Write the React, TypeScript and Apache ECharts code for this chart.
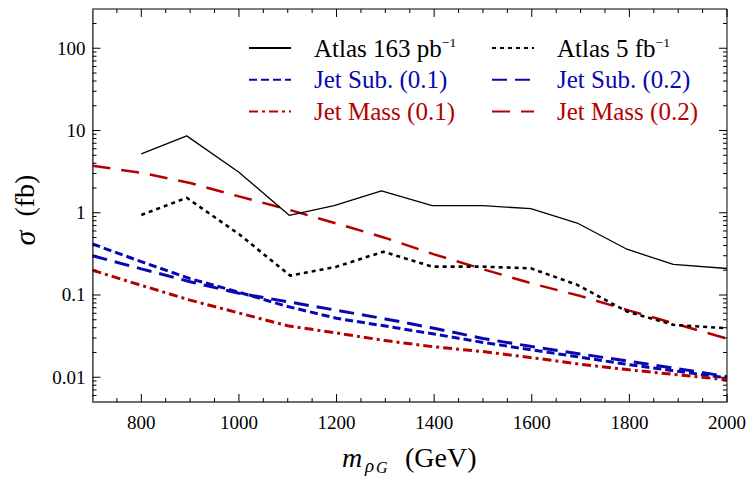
import React, { useEffect, useRef } from 'react';
import * as echarts from 'echarts';

// ---- data ----
const atlas163Mass = [800, 893, 1000, 1103, 1195, 1292, 1396, 1500, 1598, 1693, 1795, 1890, 2000];
const atlas163Sigma = [5.2, 8.6, 3.1, 0.93, 1.22, 1.85, 1.22, 1.22, 1.12, 0.75, 0.36, 0.235, 0.21];

const atlas5Mass = [800, 893, 1000, 1105, 1200, 1296, 1396, 1500, 1598, 1693, 1795, 1890, 2000];
const atlas5Sigma = [0.94, 1.52, 0.55, 0.172, 0.221, 0.336, 0.221, 0.221, 0.211, 0.133, 0.063, 0.0434, 0.0395];

const theoryMass = [700, 800, 900, 1000, 1100, 1200, 1300, 1400, 1500, 1600, 1700, 1800, 1900, 2000];
const jetSub01 = [0.417, 0.254, 0.158, 0.108, 0.0724, 0.0521, 0.0419, 0.0335, 0.0265, 0.0215, 0.0175, 0.0142, 0.0118, 0.0098];
const jetSub02 = [0.3, 0.208, 0.145, 0.105, 0.0828, 0.0652, 0.0512, 0.0394, 0.0296, 0.0236, 0.0192, 0.0156, 0.0127, 0.0102];
const jetMass01 = [0.2, 0.131, 0.0866, 0.0604, 0.0422, 0.0345, 0.0279, 0.0234, 0.0205, 0.0173, 0.0144, 0.0123, 0.0107, 0.0093];
const jetMass02 = [3.72, 3.06, 2.3, 1.58, 1.1, 0.74, 0.494, 0.312, 0.206, 0.138, 0.097, 0.0646, 0.0437, 0.0295];

const xTickLabels = ['800', '1000', '1200', '1400', '1600', '1800', '2000'];
const yTickLabels = ['0.01', '0.1', '1', '10', '100'];
const xMajorTicks = [800, 1000, 1200, 1400, 1600, 1800, 2000];
const xMinorTicks = [750, 850, 900, 950, 1050, 1100, 1150, 1250, 1300, 1350, 1450, 1500, 1550, 1650, 1700, 1750, 1850, 1900, 1950];
const yMajorTicks = [0.01, 0.1, 1, 10, 100];
const yMinorTicks = [
  0.006, 0.007, 0.008, 0.009,
  0.02, 0.03, 0.04, 0.05, 0.06, 0.07, 0.08, 0.09,
  0.2, 0.3, 0.4, 0.5, 0.6, 0.7, 0.8, 0.9,
  2, 3, 4, 5, 6, 7, 8, 9,
  20, 30, 40, 50, 60, 70, 80, 90,
  200,
];

const X_MIN = 700;
const X_MAX = 2000;
const Y_MIN = 0.005;
const Y_MAX = 300;

const BLUE = '#0808b0';
const RED = '#b40000';
const SERIF = "'Liberation Serif', 'Times New Roman', serif";

const zip = (xs: number[], ys: number[]) => xs.map((x, i) => [x, ys[i]]);

export default function App() {
  const ref = useRef<HTMLDivElement>(null);

  useEffect(() => {
    if (!ref.current) return;
    const chart = echarts.init(ref.current, undefined, { renderer: 'svg' });

    const legendText = {
      fontFamily: SERIF,
      fontSize: 25,
      lineHeight: 26,
      padding: [0, 0, 0, 18],
      rich: {
        sup: { fontFamily: SERIF, fontSize: 13.5, lineHeight: 10, verticalAlign: 'top' },
      },
    };
    const legendFormatter = (name: string) => name.replace('-1', '{sup|−1}');

    const xTickData = [
      ...xMajorTicks.map((v) => [v, Y_MIN, 8]),
      ...xMinorTicks.map((v) => [v, Y_MIN, 4]),
    ];
    const yTickData = [
      ...yMajorTicks.map((v) => [X_MIN, v, 8]),
      ...yMinorTicks.map((v) => [X_MIN, v, 4]),
    ];

    const tickStyle = { stroke: '#000', lineWidth: 1 };

    const legendBase = {
      orient: 'vertical',
      top: 35,
      padding: 0,
      itemWidth: 42,
      itemHeight: 14,
      itemGap: 5.7,
      selectedMode: false,
      formatter: legendFormatter,
      textStyle: legendText,
      itemStyle: { opacity: 0, borderWidth: 0 },
    };

    chart.setOption({
      animation: false,
      grid: {
        left: 92.5,
        right: 18.5,
        top: 9,
        bottom: 75,
        show: true,
        borderColor: '#000',
        borderWidth: 1,
        backgroundColor: 'transparent',
      },
      xAxis: {
        type: 'value',
        min: X_MIN,
        max: X_MAX,
        interval: 100,
        axisLine: { show: true, lineStyle: { color: '#666', width: 1.6 } },
        axisTick: { show: false },
        splitLine: { show: false },
        axisLabel: {
          margin: 11,
          fontFamily: SERIF,
          fontSize: 19,
          color: '#000',
          formatter: (v: number) => {
            const i = xMajorTicks.indexOf(v);
            return i >= 0 ? xTickLabels[i] : '';
          },
        },
      },
      yAxis: {
        type: 'log',
        logBase: 10,
        min: Y_MIN,
        max: Y_MAX,
        axisLine: { show: true, lineStyle: { color: '#666', width: 1.6 } },
        axisTick: { show: false },
        splitLine: { show: false },
        minorTick: { show: false },
        axisLabel: {
          margin: 7,
          fontFamily: SERIF,
          fontSize: 19,
          color: '#000',
          showMinLabel: false,
          showMaxLabel: false,
          formatter: (v: number) => {
            const e = Math.log10(v);
            const r = Math.round(e);
            if (Math.abs(e - r) > 1e-6) return '';
            return yTickLabels[r + 2] ?? '';
          },
        },
      },
      legend: [
        {
          ...legendBase,
          left: 248,
          data: [
            { name: 'Atlas 163 pb-1', textStyle: { color: '#000' } },
            { name: 'Jet Sub. (0.1)', textStyle: { color: BLUE } },
            { name: 'Jet Mass (0.1)', textStyle: { color: RED } },
          ],
        },
        {
          ...legendBase,
          left: 491,
          data: [
            { name: 'Atlas 5 fb-1', textStyle: { color: '#000' } },
            { name: 'Jet Sub. (0.2)', textStyle: { color: BLUE } },
            { name: 'Jet Mass (0.2)', textStyle: { color: RED } },
          ],
        },
      ],
      graphic: [
        {
          type: 'text',
          x: 24,
          y: 210,
          rotation: Math.PI / 2,
          style: {
            text: '{i|σ}  (fb)',
            fontFamily: SERIF,
            fontSize: 28,
            fill: '#000',
            align: 'center',
            verticalAlign: 'middle',
            rich: {
              i: { fontFamily: SERIF, fontSize: 30, fontStyle: 'italic', fill: '#000' },
            },
          },
        },
        {
          type: 'text',
          x: 342,
          y: 457,
          style: { text: 'm', fontFamily: SERIF, fontSize: 28, fontStyle: 'italic', fill: '#000', align: 'left', verticalAlign: 'middle' },
        },
        {
          type: 'text',
          x: 365,
          y: 465,
          style: { text: 'ρ', fontFamily: SERIF, fontSize: 19, fontStyle: 'italic', fill: '#000', align: 'left', verticalAlign: 'middle' },
        },
        {
          type: 'text',
          x: 376,
          y: 467,
          style: { text: 'G', fontFamily: SERIF, fontSize: 16, fontStyle: 'italic', fill: '#000', align: 'left', verticalAlign: 'middle' },
        },
        {
          type: 'text',
          x: 405,
          y: 457.5,
          style: { text: '(GeV)', fontFamily: SERIF, fontSize: 28, fill: '#000', align: 'left', verticalAlign: 'middle' },
        },
      ],
      series: [
        {
          name: 'Atlas 163 pb-1',
          type: 'line',
          symbol: 'none',
          data: zip(atlas163Mass, atlas163Sigma),
          lineStyle: { color: '#000', width: 1.3, type: 'solid' },
          itemStyle: { color: '#000' },
          z: 5,
        },
        {
          name: 'Atlas 5 fb-1',
          type: 'line',
          symbol: 'none',
          data: zip(atlas5Mass, atlas5Sigma),
          lineStyle: { color: '#000', width: 2.6, type: [4, 4] },
          itemStyle: { color: '#000' },
          z: 5,
        },
        {
          name: 'Jet Sub. (0.1)',
          type: 'line',
          symbol: 'none',
          data: zip(theoryMass, jetSub01),
          lineStyle: { color: BLUE, width: 3, type: [8, 4] },
          itemStyle: { color: BLUE },
          z: 4,
        },
        {
          name: 'Jet Sub. (0.2)',
          type: 'line',
          symbol: 'none',
          data: zip(theoryMass, jetSub02),
          lineStyle: { color: BLUE, width: 3, type: [15, 8] },
          itemStyle: { color: BLUE },
          z: 4,
        },
        {
          name: 'Jet Mass (0.1)',
          type: 'line',
          symbol: 'none',
          data: zip(theoryMass, jetMass01),
          lineStyle: { color: RED, width: 3, type: [9, 4, 3, 4] },
          itemStyle: { color: RED },
          z: 4,
        },
        {
          name: 'Jet Mass (0.2)',
          type: 'line',
          symbol: 'none',
          data: zip(theoryMass, jetMass02),
          lineStyle: { color: RED, width: 2.5, type: [18, 11] },
          itemStyle: { color: RED },
          z: 4,
        },
        {
          name: 'xTicks',
          type: 'custom',
          clip: false,
          silent: true,
          encode: { x: 0, y: 1 },
          data: xTickData,
          renderItem: (params: any, api: any) => {
            const v = api.value(0);
            const len = api.value(2);
            const b = api.coord([v, Y_MIN]);
            const t = api.coord([v, Y_MAX]);
            return {
              type: 'group',
              children: [
                { type: 'line', shape: { x1: b[0], y1: b[1], x2: b[0], y2: b[1] - len }, style: tickStyle },
                { type: 'line', shape: { x1: t[0], y1: t[1], x2: t[0], y2: t[1] + len }, style: tickStyle },
              ],
            };
          },
          z: 6,
        },
        {
          name: 'yTicks',
          type: 'custom',
          clip: false,
          silent: true,
          encode: { x: 0, y: 1 },
          data: yTickData,
          renderItem: (params: any, api: any) => {
            const v = api.value(1);
            const len = api.value(2);
            const l = api.coord([X_MIN, v]);
            const r = api.coord([X_MAX, v]);
            return {
              type: 'group',
              children: [
                { type: 'line', shape: { x1: l[0], y1: l[1], x2: l[0] + len, y2: l[1] }, style: tickStyle },
                { type: 'line', shape: { x1: r[0], y1: r[1], x2: r[0] - len, y2: r[1] }, style: tickStyle },
              ],
            };
          },
          z: 6,
        },
      ],
    });

    return () => chart.dispose();
  }, []);

  return (
    <div
      ref={ref}
      style={{ position: 'fixed', left: 0, top: 0, width: 749, height: 477, background: '#fff' }}
    />
  );
}
